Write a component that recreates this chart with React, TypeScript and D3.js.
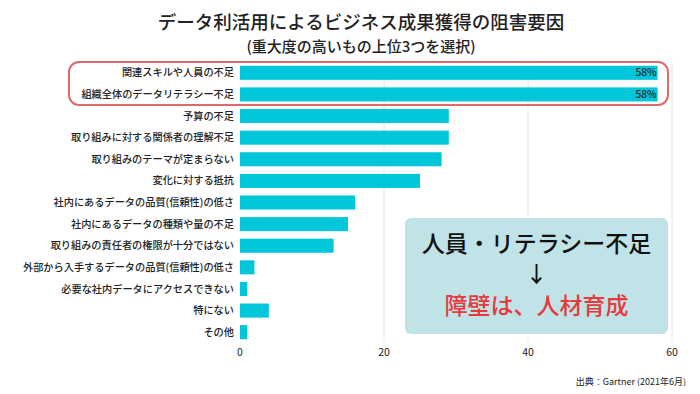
import React from 'react';
import * as d3 from 'd3';

const categories = [
  '関連スキルや人員の不足',
  '組織全体のデータリテラシー不足',
  '予算の不足',
  '取り組みに対する関係者の理解不足',
  '取り組みのテーマが定まらない',
  '変化に対する抵抗',
  '社内にあるデータの品質(信頼性)の低さ',
  '社内にあるデータの種類や量の不足',
  '取り組みの責任者の権限が十分ではない',
  '外部から入手するデータの品質(信頼性)の低さ',
  '必要な社内データにアクセスできない',
  '特にない',
  'その他',
];
const values = [58, 58, 29, 29, 28, 25, 16, 15, 13, 2, 1, 4, 1];
const labelled = [0, 1];
const ticks = [0, 20, 40, 60];

const W = 700;
const H = 394;
const FONT = '"Noto Sans CJK JP", "Noto Sans", sans-serif';

export default function App() {
  const x = d3.scaleLinear().domain([0, 60]).range([240, 672]);
  const y = d3.scaleBand<string>()
    .domain(categories)
    .range([62, 343])
    .paddingInner(0.35)
    .paddingOuter(0.175);
  const bh = y.bandwidth();
  const cx = 361;

  return (
    <svg width={W} height={H} style={{ display: 'block', margin: -8, fontFamily: FONT }}>
      <rect width={W} height={H} fill="#fff" />
      <text x={cx} y={29} textAnchor="middle" fontSize={18.5} fontWeight={500} fill="#222">
        データ利活用によるビジネス成果獲得の阻害要因
      </text>
      <text x={cx} y={52} textAnchor="middle" fontSize={15} fontWeight={500} fill="#222">
        (重大度の高いもの上位3つを選択)
      </text>

      {ticks.slice(1).map(t => (
        <line key={t} x1={x(t)} x2={x(t)} y1={62} y2={342} stroke="#e6e6e6" strokeWidth={1} />
      ))}

      {categories.map((c, i) => (
        <g key={c}>
          <rect x={x(0)} y={y(c)} width={x(values[i]) - x(0)} height={bh} fill="#00c6d9" />
          <text x={x(0) - 6} y={(y(c) as number) + bh / 2} dy="0.35em" textAnchor="end"
            fontSize={10.2} fontWeight={500} fill="#222">
            {c}
          </text>
          {labelled.includes(i) && (
            <text x={x(values[i]) - 1} y={(y(c) as number) + bh / 2} dy="0.35em" textAnchor="end"
              fontSize={10.2} fontWeight={500} fill="#222">
              {values[i]}%
            </text>
          )}
        </g>
      ))}

      {ticks.map(t => (
        <text key={t} x={x(t)} y={356} textAnchor="middle" fontSize={10.5} fill="#222">{t}</text>
      ))}

      <rect x={69} y={62} width={599} height={43} rx={10} fill="none" stroke="#e06a6a" strokeWidth={2} />

      <rect x={405} y={218} width={263} height={116} rx={6} fill="#bfe3e7" />
      <text x={536.5} y={252} textAnchor="middle" fontSize={23} fontWeight={500} fill="#111">
        人員・リテラシー不足
      </text>
      <text x={536.5} y={282} textAnchor="middle" fontSize={22} fontWeight={500} fill="#111">
        ↓
      </text>
      <text x={536.5} y={314} textAnchor="middle" fontSize={23} fontWeight={500} fill="#e8393c">
        障壁は、人材育成
      </text>

      <text x={686} y={385} textAnchor="end" fontSize={9} fill="#222">
        出典：Gartner (2021年6月)
      </text>
    </svg>
  );
}
